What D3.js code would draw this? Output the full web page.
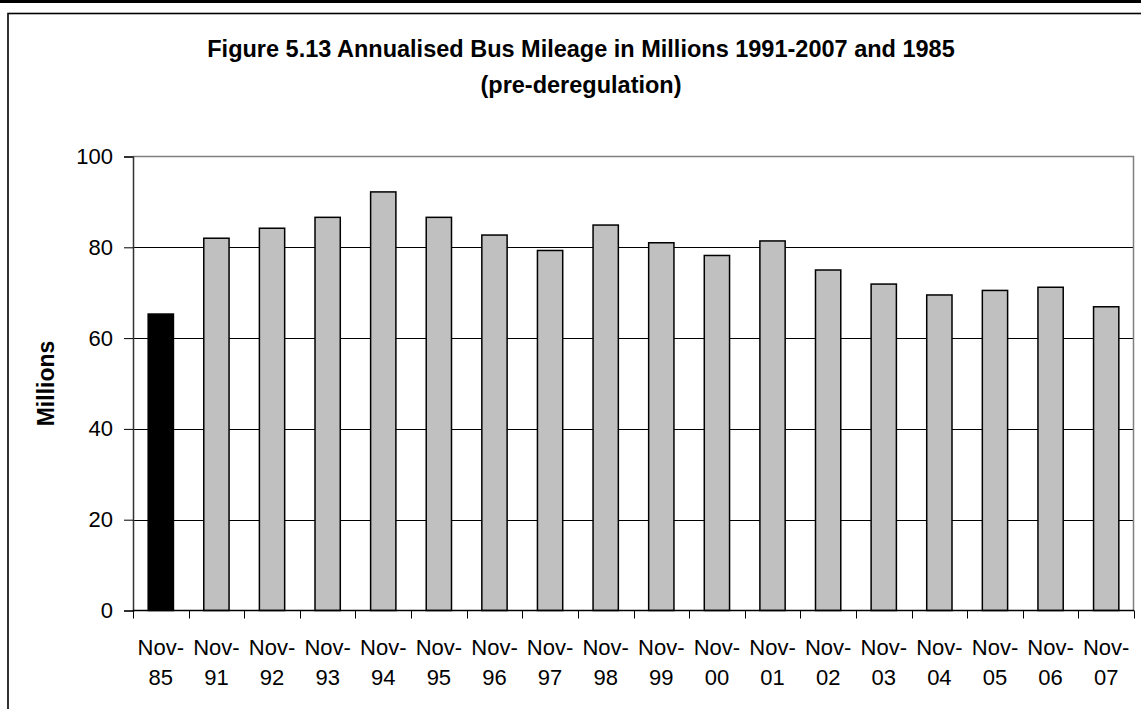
<!DOCTYPE html>
<html>
<head>
<meta charset="utf-8">
<script src="https://cdn.jsdelivr.net/npm/d3@7/dist/d3.min.js"></script>
<style>
  html, body { margin: 0; padding: 0; background: #fff; overflow: hidden; }
  svg { display: block; font-family: "Liberation Sans", Arial, sans-serif; }
</style>
</head>
<body>
<svg id="chart" width="1141" height="709"></svg>
<script>
const categories = ["Nov-85","Nov-91","Nov-92","Nov-93","Nov-94","Nov-95","Nov-96","Nov-97","Nov-98","Nov-99","Nov-00","Nov-01","Nov-02","Nov-03","Nov-04","Nov-05","Nov-06","Nov-07"];
const values = [65.3, 82.0, 84.2, 86.6, 92.2, 86.6, 82.7, 79.3, 84.9, 81.0, 78.2, 81.4, 75.0, 71.9, 69.5, 70.5, 71.2, 66.9];
const yTicks = [0, 20, 40, 60, 80, 100];
const titleLines = ["Figure 5.13 Annualised Bus Mileage in Millions 1991-2007 and 1985", "(pre-deregulation)"];
const yTitle = "Millions";

const svg = d3.select("#chart");
const W = 1141, H = 709;
const plot = { left: 133, right: 1134, top: 156.5, bottom: 610.5 };

// outer frame
svg.append("rect").attr("x", 0).attr("y", 0).attr("width", W).attr("height", 3).attr("fill", "#000");
svg.append("rect").attr("x", 8).attr("y", 13.5).attr("width", 1160).attr("height", 720)
  .attr("fill", "none").attr("stroke", "#000").attr("stroke-width", 1.6);

const x = d3.scaleBand().domain(categories).range([plot.left, plot.right])
  .paddingInner(1.2 / 2.2).paddingOuter(0.6 / 2.2);
const y = d3.scaleLinear().domain([0, 100]).range([plot.bottom, plot.top]);

// gridlines
svg.append("g").selectAll("line").data(yTicks.filter(d => d > 0 && d < 100)).join("line")
  .attr("x1", plot.left).attr("x2", plot.right)
  .attr("y1", d => Math.round(y(d)) + 0.5).attr("y2", d => Math.round(y(d)) + 0.5)
  .attr("stroke", "#000").attr("stroke-width", 1);

// plot border top & right (gray)
svg.append("path")
  .attr("d", `M${plot.left},${plot.top}H${plot.right - 0.5}V${plot.bottom}`)
  .attr("fill", "none").attr("stroke", "#808080").attr("stroke-width", 1.5);

// bars
svg.append("g").selectAll("rect").data(values).join("rect")
  .attr("x", (d, i) => x(categories[i]))
  .attr("y", d => y(d))
  .attr("width", x.bandwidth())
  .attr("height", d => y(0) - y(d))
  .attr("fill", (d, i) => i === 0 ? "#000" : "#c0c0c0")
  .attr("stroke", "#000").attr("stroke-width", 1.5);

// y axis
const yAxis = d3.axisLeft(y).tickValues(yTicks).tickSize(9).tickPadding(11).tickFormat(d3.format("d"));
const gy = svg.append("g").attr("transform", `translate(${plot.left},0)`).call(yAxis);
gy.select(".domain").attr("stroke", "#333").attr("stroke-width", 1.5);
gy.selectAll(".tick line").attr("stroke", "#000");
gy.selectAll(".tick text").attr("font-size", 22).attr("fill", "#000")
  .attr("font-family", "Liberation Sans, Arial, sans-serif");

// x axis baseline and ticks at band boundaries
const boundaries = d3.range(categories.length + 1).map(i => plot.left + i * (plot.right - plot.left) / categories.length);
svg.append("line").attr("x1", plot.left).attr("x2", plot.right)
  .attr("y1", plot.bottom).attr("y2", plot.bottom).attr("stroke", "#000").attr("stroke-width", 1.5);
svg.append("g").selectAll("line").data(boundaries).join("line")
  .attr("x1", d => Math.round(d) + 0.5).attr("x2", d => Math.round(d) + 0.5)
  .attr("y1", plot.bottom).attr("y2", plot.bottom + 8)
  .attr("stroke", "#000").attr("stroke-width", 1);

// x labels (two lines)
const xl = svg.append("g").selectAll("text").data(categories).join("text")
  .attr("text-anchor", "middle").attr("font-size", 22).attr("fill", "#000")
  .attr("transform", d => `translate(${x(d) + x.bandwidth() / 2},0)`);
xl.append("tspan").attr("x", 0).attr("y", 655).text(d => d.split("-")[0] + "-");
xl.append("tspan").attr("x", 0).attr("y", 685).text(d => d.split("-")[1]);

// title
svg.append("g").selectAll("text").data(titleLines).join("text")
  .attr("x", 581).attr("y", (d, i) => 57 + i * 36)
  .attr("text-anchor", "middle").attr("font-weight", "bold").attr("font-size", 23.5)
  .attr("fill", "#000").text(d => d);

// y title
svg.append("text").attr("transform", `translate(54,${(plot.top + plot.bottom) / 2}) rotate(-90)`)
  .attr("text-anchor", "middle").attr("font-weight", "bold").attr("font-size", 23)
  .attr("fill", "#000").text(yTitle);
</script>
</body>
</html>
